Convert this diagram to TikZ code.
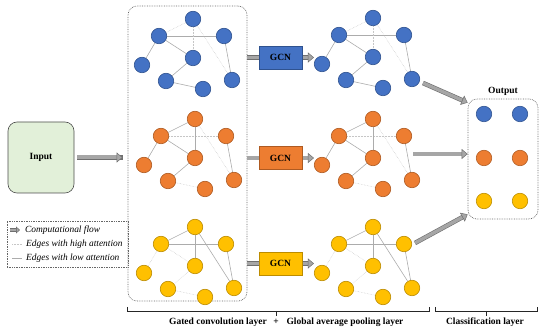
\documentclass[tikz,border=0pt]{standalone}
\usepackage{fontspec}
\setmainfont{Liberation Serif}
\usepackage{xcolor}
\usepackage{tikz}
\usetikzlibrary{arrows.meta, positioning, calc, backgrounds}

\definecolor{gblue}{HTML}{4472C4}
\definecolor{gblueline}{HTML}{2F528F}
\definecolor{gorange}{HTML}{ED7D31}
\definecolor{gorangeline}{HTML}{AE5A21}
\definecolor{gyellow}{HTML}{FFC000}
\definecolor{gyellowline}{HTML}{BC8C00}
\definecolor{inputfill}{HTML}{E2F0D9}
\definecolor{flowfill}{HTML}{A6A6A6}
\definecolor{flowline}{HTML}{6F6F6F}

% one small graph: #1 prefix, #2 origin (top node), #3 node style, #4 edges a/b/style
\newcommand{\molgraph}[4]{%
    \begin{scope}[shift={#2}]
        \node[#3] (#1t)  at (0,0)    {};
        \node[#3] (#1ul) at (-34,17) {};
        \node[#3] (#1ur) at (31,17)  {};
        \node[#3] (#1m)  at (0,39)   {};
        \node[#3] (#1l)  at (-51,46) {};
        \node[#3] (#1ll) at (-27,62) {};
        \node[#3] (#1lm) at (10,70)  {};
        \node[#3] (#1r)  at (39,61)  {};
    \end{scope}
    \begin{scope}[on background layer]
        \foreach \a/\b/\s in {#4} \draw[\s] (#1\a) -- (#1\b);
    \end{scope}
}

\begin{document}
\begin{tikzpicture}[
        x=1pt, y=-1pt,
        atom/.style={circle, minimum size=15.5pt, inner sep=0pt, line width=0.6pt},
        bluenode/.style={atom, fill=gblue, draw=gblueline},
        orangenode/.style={atom, fill=gorange, draw=gorangeline},
        yellownode/.style={atom, fill=gyellow, draw=gyellowline},
        lowatt/.style={draw=gray!65, line width=0.6pt},
        highatt/.style={draw=gray!45, line width=0.5pt, densely dotted},
        gcnbox/.style={rectangle, minimum width=43pt, minimum height=23pt, line width=0.6pt, font=\fontsize{9.5}{11}\selectfont\bfseries},
        dashbox/.style={rectangle, rounded corners=9pt, draw=gray!80!black, densely dotted, line width=0.7pt},
        flow/.style={line width=3.4pt, draw=flowfill,
            -{Triangle[length=6pt, width=10pt, fill=flowfill, color=flowline, line width=0.5pt]},
            preaction={draw=flowline, line width=4.6pt, -, shorten >=5pt}},
        flowbar/.style={line width=3.4pt, draw=flowfill, preaction={draw=flowline, line width=4.6pt}},
        brace/.style={draw=gray!30!black, line width=0.6pt},
        lbl/.style={font=\fontsize{9.5}{11}\selectfont\bfseries},
        legendtxt/.style={font=\fontsize{9.4}{11}\selectfont\itshape, inner sep=0pt}
    ]
        \useasboundingbox (0,0) rectangle (550,334);

        \node[rectangle, rounded corners=9pt, fill=inputfill, draw=gray!60!black, line width=0.6pt,
              minimum width=66pt, minimum height=71pt, lbl] (input) at (41,157.5) {Input};
        \node[dashbox, minimum width=119pt, minimum height=295pt] (gate) at (187.5,153.5) {};

        \molgraph{b1}{(193,19)}{bluenode}{t/ul/highatt, ul/ur/lowatt, ul/m/lowatt, ul/l/lowatt, t/m/highatt, t/r/highatt, ur/r/lowatt, m/ll/lowatt, ll/lm/lowatt}
        \molgraph{o1}{(195,119)}{orangenode}{t/ul/lowatt, ul/ur/highatt, ul/m/lowatt, ul/l/lowatt, t/m/lowatt, t/r/highatt, ur/r/lowatt, m/ll/lowatt, ll/lm/highatt}
        \molgraph{y1}{(195,227)}{yellownode}{t/ul/lowatt, ul/ur/lowatt, ul/m/highatt, ul/l/highatt, t/m/lowatt, t/r/lowatt, ur/r/lowatt, m/ll/highatt, ll/lm/highatt}

        \molgraph{b2}{(373,18)}{bluenode}{t/ul/highatt, ul/ur/lowatt, ul/m/lowatt, ul/l/lowatt, t/m/highatt, t/r/highatt, ur/r/lowatt, m/ll/lowatt, ll/lm/lowatt}
        \molgraph{o2}{(373,119)}{orangenode}{t/ul/lowatt, ul/ur/highatt, ul/m/lowatt, ul/l/lowatt, t/m/lowatt, t/r/highatt, ur/r/lowatt, m/ll/lowatt, ll/lm/highatt}
        \molgraph{y2}{(373,227)}{yellownode}{t/ul/lowatt, ul/ur/lowatt, ul/m/highatt, ul/l/highatt, t/m/lowatt, t/r/lowatt, ur/r/lowatt, m/ll/highatt, ll/lm/highatt}

        \node[gcnbox, fill=gblue, draw=gblueline] (gcnb) at (280.5,57.5) {GCN};
        \node[gcnbox, fill=gorange, draw=gorangeline] (gcno) at (280.5,158) {GCN};
        \node[gcnbox, fill=gyellow, draw=gyellowline] (gcny) at (280.5,263.5) {GCN};

        \draw[flow, line width=4pt, preaction={draw=flowline, line width=5.2pt, -, shorten >=5pt},
              shorten <=3pt, shorten >=5pt] (input.east) -- (gate.west |- input.east);

        \foreach \g/\n in {gcnb/b2l, gcno/o2l, gcny/y2l} {
            \draw[flowbar] (gate.east |- \g.west) -- (\g.west);
            \draw[flow] ([xshift=1pt]\g.east) -- (\g.east -| \n.west);
        }

        % output layer
        \node[dashbox, minimum width=70pt, minimum height=120pt] (out) at (503,159) {};
        \node[lbl, above=0pt of out] (outlbl) {Output};
        \foreach \c/\y/\k in {gblue/114/b, gorange/158/o, gyellow/201/y} {
            \node[atom, fill=\c, draw=\c!75!black] (\k o1) at (484,\y) {};
            \node[atom, fill=\c, draw=\c!75!black] (\k o2) at (520,\y) {};
        }
        \coordinate (bsrc) at (423,83);
        \coordinate (osrc) at (413,154);
        \coordinate (ysrc) at (415,243);
        \draw[flow] (bsrc) -- ([yshift=-4pt]out.north west);
        \draw[flow] (osrc) -- ([yshift=5pt]out.west);
        \draw[flow] (ysrc) -- ([yshift=5pt]out.south west);

        % legend
        \node[dashbox, rounded corners=0pt, minimum width=121pt, minimum height=46pt] (legend) at (67.5,244) {};
        \coordinate (lg1a) at (10,230);  \coordinate (lg1b) at (20,230);
        \coordinate (lg2a) at (12,244);  \coordinate (lg2b) at (22,244);
        \coordinate (lg3a) at (12,258);  \coordinate (lg3b) at (22,258);
        \draw[flow, line width=2.6pt, -{Triangle[length=4pt, width=7pt, fill=flowfill, color=flowline, line width=0.5pt]},
              preaction={draw=flowline, line width=3.6pt, -, shorten >=3pt}] (lg1a) -- (lg1b);
        \draw[highatt] (lg2a) -- (lg2b);
        \draw[lowatt] (lg3a) -- (lg3b);
        \node[legendtxt, anchor=west] (lgt1) at (25,230) {Computational flow};
        \node[legendtxt, anchor=west] (lgt2) at (26,244) {Edges with high attention};
        \node[legendtxt, anchor=west] (lgt3) at (26,258) {Edges with low attention};

        % bottom brackets
        \draw[brace] (127,307) -- (127,311) -- (429,311) -- (429,307);
        \draw[brace] (276,311) -- (276,316);
        \draw[brace] (435,307) -- (435,311) -- (537,311) -- (537,307);
        \draw[brace] (486,311) -- (486,316);
        \node[lbl] (gatelbl) at (218,322) {Gated convolution layer};
        \node[lbl] (pluslbl) at (276,322) {+};
        \node[lbl] (poollbl) at (345,322) {Global average pooling layer};
        \node[lbl] (clslbl) at (485,322) {Classification layer};
    \end{tikzpicture}
\end{document}
